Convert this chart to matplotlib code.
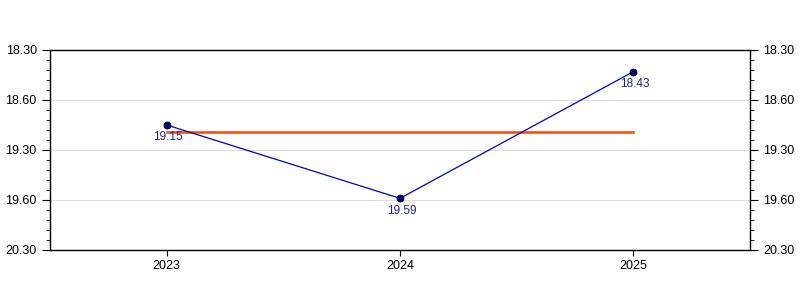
import matplotlib
matplotlib.use("Agg")
import matplotlib.pyplot as plt
import numpy as np

# data (times stored in seconds, labels show m.ss)
years = ["2023", "2024", "2025"]
secs = [1155, 1199, 1123]          # 19:15, 19:59, 18:43
point_labels = ["19.15", "19.59", "18.43"]
ytick_vals = [1110, 1140, 1170, 1200, 1230]
ytick_labels = ["18.30", "18.60", "19.30", "19.60", "20.30"]

plt.rcParams['font.family'] = ['Liberation Sans', 'DejaVu Sans']

fig = plt.figure(figsize=(8, 3), dpi=100)
ax = fig.add_axes([0.0625, 1/6, 0.875, 2/3])

x = np.arange(len(years))
media = np.mean(secs)

ax.plot([x[0], x[-1]], [media, media], color='#ff4500', lw=1.8, zorder=2)
ax.plot(x, secs, color='#0000cc', lw=0.9, zorder=3)
ax.plot(x, secs, 'o', ms=5, mfc='#000080', mec='#000000', mew=0.6, zorder=4)

for xi, yi, t in zip(x, secs, point_labels):
    ax.annotate(t, (xi, yi), xytext=(1, -4.5), textcoords='offset points',
                ha='center', va='top', fontsize=8.5, color='#2020a0')

ax.set_xlim(-0.5, 2.5)
ax.set_ylim(1230, 1110)
ax.set_xticks(x)
ax.set_xticklabels(years, fontsize=9)
ax.set_yticks(ytick_vals)
ax.set_yticklabels(ytick_labels, fontsize=9)
ax.set_yticks(np.arange(1110, 1231, 6), minor=True)
ax.grid(axis='y', color='#dddddd', lw=0.8)
ax.set_axisbelow(True)

ax.tick_params(axis='y', which='both', left=True, right=True, labelright=True, direction='out')
ax.tick_params(axis='y', which='major', length=6)
ax.tick_params(axis='y', which='minor', length=3)
ax.tick_params(axis='x', length=4, direction='out')
ax.tick_params(axis='x', which='minor', bottom=False)

for s in ax.spines.values():
    s.set_linewidth(1)

fig.savefig("out.png", dpi=100)
